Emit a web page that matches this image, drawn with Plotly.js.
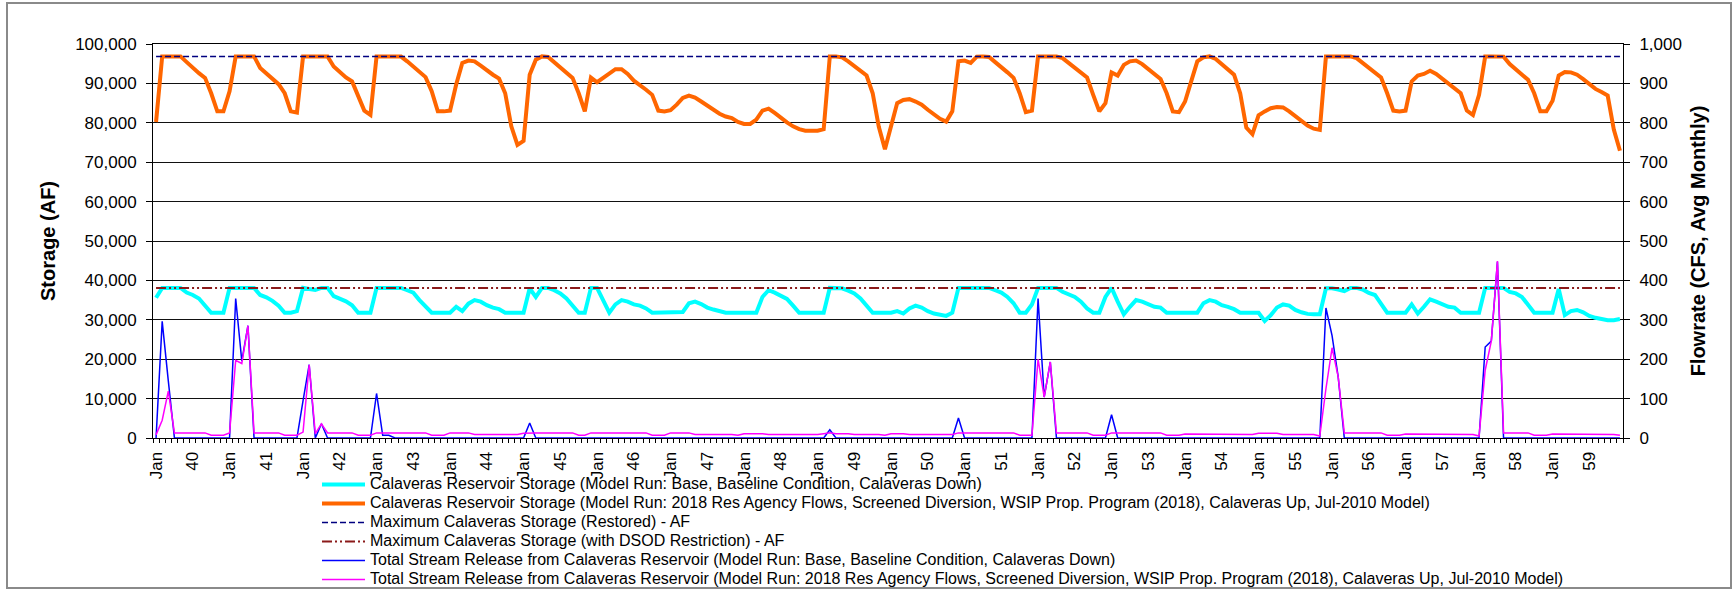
<!DOCTYPE html>
<html>
<head>
<meta charset="utf-8">
<script src="https://cdn.plot.ly/plotly-3.0.1.min.js"></script>
<style>
  html, body { margin: 0; padding: 0; background: #fff; }
  #wrap { position: relative; width: 1736px; height: 589px; }
  #chart { position: absolute; left: 0; top: 0; width: 1736px; height: 589px; }
  #frame { position: absolute; left: 6px; top: 2px; width: 1726px; height: 587px;
           box-sizing: border-box; border: 2px solid #8a8a8a; pointer-events: none; }
</style>
</head>
<body>
<div id="wrap">
  <div id="chart"></div>
  <div id="frame"></div>
</div>
<script>
// Calendar years of the monthly simulation (Jan 1940 - Dec 1959)
const years = [1940, 1941, 1942, 1943, 1944, 1945, 1946, 1947, 1948, 1949,
               1950, 1951, 1952, 1953, 1954, 1955, 1956, 1957, 1958, 1959];
const monthLabel = 'Jan';

// Reservoir capacities (AF)
const maxStorageRestored = 96850;
const maxStorageDSOD = 38100;

// Calaveras storage, Base run (AF), one row per year
const storageBase = [
  35600, 38100, 38100, 38100, 38100, 36900, 36300, 35400, 33700, 31800, 31800, 31800,
  38100, 38100, 38100, 38100, 38100, 36300, 35700, 34800, 33600, 31800, 31800, 32200,
  38100, 37800, 37600, 38100, 38100, 36000, 35400, 34700, 33700, 31800, 31800, 31800,
  38100, 38100, 38100, 38100, 38100, 37500, 36900, 35000, 33300, 31800, 31800, 31800,
  31800, 33300, 32200, 34100, 35000, 34600, 33700, 33100, 32700, 31800, 31800, 31800,
  31800, 38000, 35800, 38100, 38100, 37500, 36700, 35400, 33700, 31800, 31800, 38100,
  38100, 35000, 31800, 33900, 35000, 34600, 33900, 33600, 32900, 31800, 31800, 31800,
  31800, 31800, 32000, 34200, 34600, 34000, 33100, 32600, 32200, 31800, 31800, 31800,
  31800, 31800, 31800, 35800, 37500, 36900, 36100, 35300, 33600, 31800, 31800, 31800,
  31800, 31800, 38100, 38100, 38000, 37400, 36700, 35400, 33700, 31800, 31800, 31800,
  31800, 32200, 31600, 32900, 33600, 33100, 32200, 31600, 31200, 31000, 31800, 38100,
  38100, 38100, 38100, 38100, 38100, 37500, 36900, 35800, 34200, 31800, 31800, 33900,
  38100, 38100, 38100, 38100, 37100, 36400, 35800, 34600, 32900, 31800, 31800, 35800,
  38100, 34600, 31400, 33300, 35000, 34600, 33900, 33300, 33100, 31800, 31800, 31800,
  31800, 32000, 31800, 34200, 35000, 34600, 33700, 33300, 32700, 31800, 31800, 31800,
  31800, 29700, 31200, 33100, 33900, 33600, 32500, 31900, 31500, 31400, 31400, 38000,
  38000, 37700, 37300, 38100, 38100, 37700, 36800, 36300, 34200, 31800, 31800, 31800,
  31800, 33900, 31600, 33300, 35200, 34600, 33900, 33300, 33100, 31800, 31800, 31800,
  31800, 38100, 38100, 38100, 38100, 37100, 36700, 35800, 33900, 31800, 31800, 31800,
  31800, 37800, 31200, 32200, 32500, 31900, 31000, 30500, 30200, 29900, 29900, 30200
];

// Calaveras storage, 2018 proposed program run (AF)
const storageProposed = [
  80200, 96850, 96850, 96850, 96850, 95400, 93900, 92600, 91400, 87500, 82900, 82900,
  88000, 96850, 96850, 96850, 96850, 93900, 92600, 91400, 89800, 87500, 82900, 82600,
  96850, 96850, 96850, 96850, 96850, 94300, 92800, 91500, 90500, 87100, 83100, 82000,
  96850, 96850, 96850, 96850, 96800, 95600, 94200, 92900, 91600, 88000, 82900, 82900,
  83100, 89700, 95200, 95800, 95600, 94500, 93200, 92200, 91200, 87500, 79100, 74400,
  75400, 92200, 96000, 96850, 96700, 95400, 93900, 92600, 91400, 87500, 82900, 91500,
  90300, 91400, 92600, 93600, 93600, 92400, 90700, 89700, 88400, 87100, 83100, 82900,
  83200, 84600, 86300, 86900, 86400, 85400, 84300, 83300, 82300, 81600, 81200, 80200,
  79700, 79700, 80800, 83100, 83600, 82500, 81200, 80100, 79100, 78400, 78000, 78100,
  78000, 78400, 96850, 96850, 96600, 95600, 94300, 93200, 92000, 87500, 79000, 73300,
  79500, 85000, 85800, 86000, 85400, 84600, 83300, 82000, 81000, 80300, 82900, 95600,
  95800, 95200, 96800, 96850, 96700, 95400, 94200, 92800, 91400, 87500, 82700, 83100,
  96850, 96850, 96850, 96850, 96400, 95200, 93900, 92600, 91500, 87100, 82900, 85000,
  92800, 92000, 94700, 95600, 95800, 94900, 93600, 92400, 91100, 87500, 82900, 82700,
  85400, 90500, 95600, 96600, 96850, 96200, 94900, 93600, 92200, 87500, 78800, 77100,
  81900, 82900, 83700, 84000, 83900, 82900, 81600, 80300, 79300, 78500, 78200, 96850,
  96850, 96700, 96600, 96850, 96400, 95200, 94100, 92900, 91500, 87500, 83100, 82900,
  83100, 90500, 92000, 92400, 93200, 92400, 91100, 89800, 88800, 87500, 83100, 82000,
  87100, 96850, 96850, 96850, 96800, 94900, 93500, 92200, 90900, 87500, 82900, 82900,
  85600, 92000, 92900, 92800, 92200, 91100, 89800, 88600, 87800, 86900, 78300, 72900
];

// Total stream release, Base run (CFS, monthly average)
const releaseBase = [
  0, 296, 145, 0, 0, 0, 0, 0, 0, 0, 0, 0,
  0, 354, 195, 285, 0, 0, 0, 0, 0, 0, 0, 0,
  95, 186, 0, 36, 0, 0, 0, 0, 0, 0, 0, 0,
  113, 7, 7, 0, 0, 0, 0, 0, 0, 0, 0, 0,
  0, 0, 0, 0, 0, 0, 0, 0, 0, 0, 0, 0,
  0, 38, 0, 0, 0, 0, 0, 0, 0, 0, 0, 0,
  0, 0, 0, 0, 0, 0, 0, 0, 0, 0, 0, 0,
  0, 0, 0, 0, 0, 0, 0, 0, 0, 0, 0, 0,
  0, 0, 0, 0, 0, 0, 0, 0, 0, 0, 0, 0,
  0, 0, 21, 0, 0, 0, 0, 0, 0, 0, 0, 0,
  0, 0, 0, 0, 0, 0, 0, 0, 0, 0, 0, 51,
  0, 0, 0, 0, 0, 0, 0, 0, 0, 0, 0, 0,
  354, 104, 193, 0, 0, 0, 0, 0, 0, 0, 0, 0,
  59, 0, 0, 0, 0, 0, 0, 0, 0, 0, 0, 0,
  0, 0, 0, 0, 0, 0, 0, 0, 0, 0, 0, 0,
  0, 0, 0, 0, 0, 0, 0, 0, 0, 0, 0, 330,
  260, 155, 0, 0, 0, 0, 0, 0, 0, 0, 0, 0,
  0, 0, 0, 0, 0, 0, 0, 0, 0, 0, 0, 0,
  0, 231, 246, 447, 0, 0, 0, 0, 0, 0, 0, 0,
  0, 0, 0, 0, 0, 0, 0, 0, 0, 0, 0, 0
];

// Total stream release, 2018 proposed program run (CFS, monthly average)
const releaseProposed = [
  8, 45, 119, 13, 13, 13, 13, 13, 13, 7, 7, 7,
  13, 197, 189, 285, 13, 13, 13, 13, 13, 7, 7, 7,
  15, 186, 11, 36, 13, 13, 13, 13, 13, 7, 7, 7,
  13, 13, 13, 13, 13, 13, 13, 13, 13, 7, 7, 7,
  13, 13, 13, 13, 9, 9, 9, 9, 9, 9, 9, 9,
  12, 13, 13, 13, 13, 13, 13, 13, 13, 7, 7, 13,
  13, 13, 13, 13, 13, 13, 13, 13, 13, 7, 7, 7,
  13, 13, 13, 13, 9, 9, 9, 9, 9, 9, 9, 7,
  11, 11, 11, 11, 9, 9, 9, 9, 9, 9, 9, 9,
  9, 11, 13, 11, 11, 11, 9, 9, 9, 9, 9, 7,
  11, 11, 11, 9, 9, 9, 9, 9, 9, 9, 9, 13,
  13, 13, 13, 13, 13, 13, 13, 13, 13, 7, 7, 7,
  200, 104, 193, 13, 13, 13, 13, 13, 13, 7, 7, 7,
  13, 13, 13, 13, 13, 13, 13, 13, 13, 7, 7, 7,
  10, 10, 10, 10, 9, 9, 9, 9, 9, 9, 9, 9,
  12, 12, 12, 12, 9, 9, 9, 9, 9, 9, 5, 125,
  229, 155, 13, 13, 13, 13, 13, 13, 13, 7, 7, 7,
  10, 10, 10, 10, 9, 9, 9, 9, 9, 9, 9, 9,
  5, 172, 246, 449, 13, 13, 13, 13, 13, 7, 7, 7,
  10, 10, 10, 10, 9, 9, 9, 9, 9, 9, 9, 7
];

// Series names
const names = [
  'Calaveras Reservoir Storage (Model Run: Base, Baseline Condition, Calaveras Down)',
  'Calaveras Reservoir Storage (Model Run: 2018 Res Agency Flows, Screened Diversion, WSIP Prop. Program (2018), Calaveras Up, Jul-2010 Model)',
  'Maximum Calaveras Storage (Restored) - AF',
  'Maximum Calaveras Storage (with DSOD Restriction) - AF',
  'Total Stream Release from Calaveras Reservoir (Model Run: Base, Baseline Condition, Calaveras Down)',
  'Total Stream Release from Calaveras Reservoir (Model Run: 2018 Res Agency Flows, Screened Diversion, WSIP Prop. Program (2018), Calaveras Up, Jul-2010 Model)'
];

// ---- build traces ----
const FONT = 'Liberation Sans, Arial, Helvetica, sans-serif';
const monthIndex = storageBase.map((_, i) => i);
const restoredLine = monthIndex.map(() => maxStorageRestored);
const dsodLine = monthIndex.map(() => maxStorageDSOD);

// legend rows use a compact row height with larger text
const legendName = s => '<span style="font-size:16px">' + s + '</span>';

const traces = [
  { x: monthIndex, y: storageBase, name: legendName(names[0]), type: 'scatter', mode: 'lines',
    line: { color: '#00FFFF', width: 4 }, yaxis: 'y' },
  { x: monthIndex, y: storageProposed, name: legendName(names[1]), type: 'scatter', mode: 'lines',
    line: { color: '#FF6600', width: 4 }, yaxis: 'y' },
  { x: monthIndex, y: restoredLine, name: legendName(names[2]), type: 'scatter', mode: 'lines',
    line: { color: '#000080', width: 1.5, dash: '6px,3px' }, yaxis: 'y' },
  { x: monthIndex, y: dsodLine, name: legendName(names[3]), type: 'scatter', mode: 'lines',
    line: { color: '#8B1A1A', width: 2, dash: '10px,3px,2px,3px,2px,3px' }, yaxis: 'y' },
  { x: monthIndex, y: releaseBase, name: legendName(names[4]), type: 'scatter', mode: 'lines',
    line: { color: '#0000FF', width: 1.5 }, yaxis: 'y2' },
  { x: monthIndex, y: releaseProposed, name: legendName(names[5]), type: 'scatter', mode: 'lines',
    line: { color: '#FF00FF', width: 1.5 }, yaxis: 'y2' }
];

// x tick labels: "Jan" at each January, two-digit year at mid-year
const tickVals = [], tickText = [];
years.forEach((yr, k) => {
  tickVals.push(k * 12); tickText.push(monthLabel);
  tickVals.push(k * 12 + 6); tickText.push(String(yr).slice(2));
});

const W = 1736, H = 589;
const M = { l: 153, r: 113, t: 44, b: 151, autoexpand: false };

const layout = {
  width: W, height: H,
  margin: M,
  paper_bgcolor: '#ffffff',
  plot_bgcolor: '#ffffff',
  font: { family: FONT, color: '#000', size: 17 },
  showlegend: true,
  xaxis: {
    range: [-0.5, monthIndex.length - 0.5],
    tickmode: 'array', tickvals: tickVals, ticktext: tickText,
    tickangle: -90, ticks: '', ticklabelstandoff: 6,
    tickfont: { family: FONT, size: 17, color: '#000' },
    showgrid: false, zeroline: false,
    showline: true, linecolor: '#000', linewidth: 1, mirror: true,
    minor: { tickmode: 'linear', tick0: -0.5, dtick: 1, ticks: 'outside',
             ticklen: 4, tickwidth: 1, tickcolor: '#000', showgrid: false },
    fixedrange: true
  },
  yaxis: {
    range: [0, 100000], tickmode: 'linear', tick0: 0, dtick: 10000,
    tickformat: ',d',
    ticks: 'outside', ticklen: 6, tickcolor: '#000', tickwidth: 1,
    ticklabelstandoff: 6,
    tickfont: { family: FONT, size: 17, color: '#000' },
    showgrid: true, gridcolor: '#111', gridwidth: 1,
    zeroline: false, showline: true, linecolor: '#000', linewidth: 1,
    title: { text: 'Storage (AF)', font: { family: FONT, size: 20, color: '#000', weight: 'bold' }, standoff: 14 },
    automargin: false, fixedrange: true
  },
  yaxis2: {
    overlaying: 'y', side: 'right',
    range: [0, 1000], tickmode: 'linear', tick0: 0, dtick: 100,
    tickformat: ',d',
    ticks: 'outside', ticklen: 6, tickcolor: '#000', tickwidth: 1,
    ticklabelstandoff: 6,
    tickfont: { family: FONT, size: 17, color: '#000' },
    showgrid: false, zeroline: false, showline: true, linecolor: '#000', linewidth: 1,
    title: { text: 'Flowrate (CFS, Avg Monthly)', font: { family: FONT, size: 20, color: '#000', weight: 'bold' }, standoff: 10 },
    automargin: false, fixedrange: true
  },
  legend: {
    orientation: 'v',
    x: (317 - M.l) / (W - M.l - M.r), xanchor: 'left',
    y: (H - M.b - 470) / (H - M.t - M.b), yanchor: 'top',
    font: { family: FONT, size: 12, color: '#000' },
    bgcolor: 'rgba(0,0,0,0)', borderwidth: 0,
    itemwidth: 43,
    traceorder: 'normal', tracegroupgap: 0
  },
  hovermode: false
};

Plotly.newPlot('chart', traces, layout, { staticPlot: true, displayModeBar: false });
</script>
</body>
</html>
